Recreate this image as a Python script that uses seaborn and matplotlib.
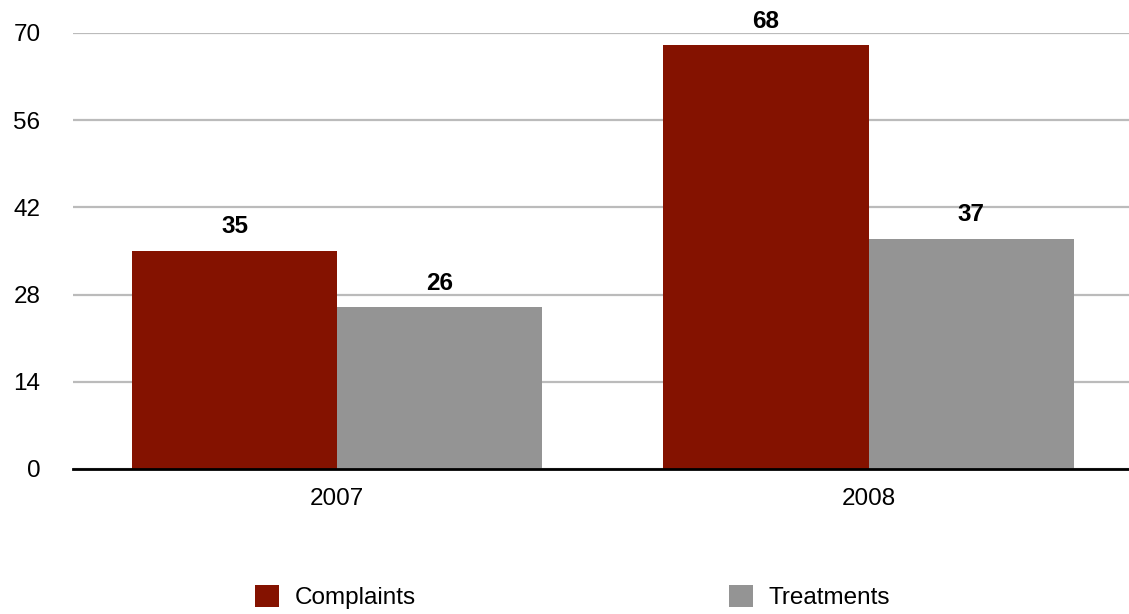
import pandas as pd
import seaborn as sns
import matplotlib.pyplot as plt

years = ["2007", "2008"]
complaints = [35, 68]
treatments = [26, 37]
series = ["Complaints", "Treatments"]
colors = ["#841200", "#949494"]
yticks = [0, 14, 28, 42, 56, 70]

df = pd.DataFrame({
    "year": years * 2,
    "count": complaints + treatments,
    "series": [series[0]] * len(years) + [series[1]] * len(years),
})

sns.set_style("white")
plt.rcParams["font.family"] = ["Liberation Sans", "DejaVu Sans"]
plt.rcParams["text.color"] = "black"
plt.rcParams["xtick.color"] = "black"
plt.rcParams["ytick.color"] = "black"

fig = plt.figure(figsize=(11.29, 6.14), dpi=100)
ax = fig.add_axes([0.0647, 0.2362, 0.9353, 0.7101])

sns.barplot(data=df, x="year", y="count", hue="series", palette=colors,
            width=0.772, saturation=1, linewidth=0, ax=ax, legend=True)

ax.set_ylim(0, 70)
ax.set_xlim(-0.497, 1.49)
ax.set_yticks(yticks)
ax.yaxis.grid(True, color="#bbbbbb", linewidth=1.6)
ax.set_axisbelow(True)
for s in ["top", "right", "left"]:
    ax.spines[s].set_visible(False)
ax.spines["bottom"].set_color("black")
ax.spines["bottom"].set_linewidth(2)
ax.tick_params(axis="y", length=0, pad=23.5, labelsize=17.5, labelcolor="black")
ax.tick_params(axis="x", length=0, pad=14, labelsize=17.5, labelcolor="black")
ax.set_xlabel("")
ax.set_ylabel("")

for c in ax.containers:
    ax.bar_label(c, padding=9, fontsize=17.5, fontweight="bold", color="black")

handles, labels = ax.get_legend_handles_labels()
ax.get_legend().remove()
fig.legend(handles, labels, loc="center", bbox_to_anchor=(0.507, 1 - 597 / 614),
           ncol=2, frameon=False, fontsize=17.5, handlelength=1.0,
           handleheight=1.0, handletextpad=0.62, columnspacing=12.9)

fig.savefig("out.png", dpi=100)
